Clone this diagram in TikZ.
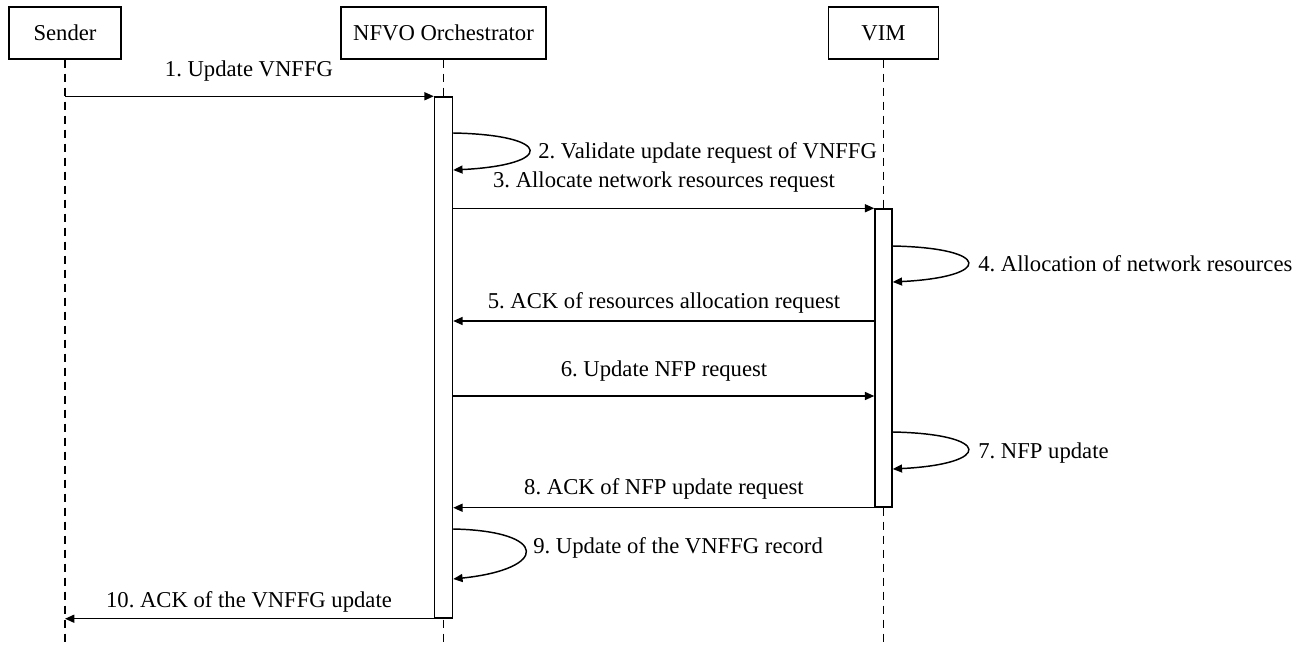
\documentclass[tikz,border=0pt]{standalone}
\usepackage{fontspec}
\setmainfont{Liberation Serif}
\usetikzlibrary{arrows.meta,calc}
\frenchspacing
\begin{document}
\begin{tikzpicture}[x=0.75pt,y=-0.75pt,
  font=\fontsize{17}{20}\selectfont,
  actor/.style={draw,line width=1.1pt,minimum height=39pt,inner sep=0pt},
  life/.style={line width=1pt,dash pattern=on 6.5pt off 4pt},
  actbox/.style={draw,fill=white,line width=1.1pt,inner sep=0pt},
  msg/.style={line width=1.1pt,-{Triangle[length=7pt,width=6pt]}},
  lbl/.style={anchor=base,inner sep=0pt},
  lblw/.style={anchor=base west,inner sep=0pt}]
\useasboundingbox (0,0) rectangle (1305,645);
% actors
\node[actor,minimum width=84pt] (sender) at (65,33) {Sender};
\node[actor,minimum width=153.75pt] (nfvo) at (443.5,33) {NFVO Orchestrator};
\node[actor,minimum width=82.5pt] (vim) at (883.5,33) {VIM};
\coordinate (bot) at (0,645);
% lifelines
\draw[life] (sender.south) -- (sender.south |- bot);
\draw[life] (nfvo.south) -- (nfvo.south |- bot);
\draw[life] (vim.south) -- (vim.south |- bot);
% activations
\node[actbox,minimum width=13.5pt,minimum height=390.75pt] (actN) at (443.5,357.5) {};
\node[actbox,minimum width=12.75pt,minimum height=223.5pt] (actV) at (883.5,358) {};
% 1
\draw[msg] (sender.south |- actN.north) -- (actN.north west);
\node[lbl] (l1) at (249,77) {1. Update VNFFG};
% 2
\draw[msg] (actN.east |- 0,133) .. controls +(101,2) and +(101,-5) .. (actN.east |- 0,170);
\node[lblw] (l2) at (538,159) {2. Validate update request of VNFFG};
% 3
\draw[msg] (actN.east |- actV.north) -- (actV.north west);
\node[lbl] (l3) at (664,188) {3. Allocate network resources request};
% 4
\draw[msg] (actV.east |- 0,246) .. controls +(100,2) and +(100,-5) .. (actV.east |- 0,282);
\node[lblw] (l4) at (978,271) {4. Allocation of network resources};
% 5
\draw[msg] (actV.west |- 0,321) -- (actN.east |- 0,321);
\node[lbl] (l5) at (664,308) {5. ACK of resources allocation request};
% 6
\draw[msg] (actN.east |- 0,396) -- (actV.west |- 0,396);
\node[lbl] (l6) at (664,376) {6. Update NFP request};
% 7
\draw[msg] (actV.east |- 0,432) .. controls +(100,2) and +(100,-5) .. (actV.east |- 0,469);
\node[lblw] (l7) at (978,458) {7. NFP update};
% 8
\draw[msg] (actV.south west) -- (actN.east |- actV.south);
\node[lbl] (l8) at (664,494) {8. ACK of NFP update request};
% 9
\draw[msg] (actN.east |- 0,529) .. controls +(96,2) and +(96,-10) .. (actN.east |- 0,579);
\node[lblw] (l9) at (533,553) {9. Update of the VNFFG record};
% 10
\draw[msg] (actN.south west) -- (sender.south |- actN.south);
\node[lbl] (l10) at (249,607) {10. ACK of the VNFFG update};
\end{tikzpicture}
\end{document}
